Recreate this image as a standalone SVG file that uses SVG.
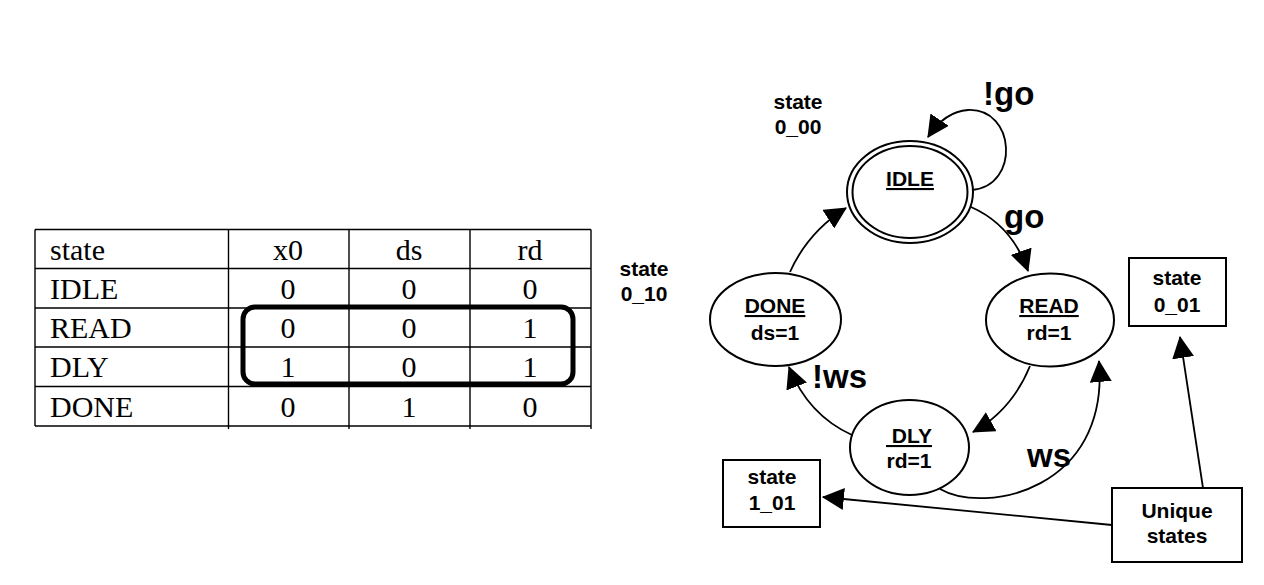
<svg xmlns="http://www.w3.org/2000/svg" width="1264" height="585" viewBox="0 0 1264 585">
<style>
.tbl{stroke:#000;stroke-width:1.4;fill:none}
.tt{font-family:"Liberation Serif","Times New Roman",serif;font-size:30px;fill:#000}
.tc{text-anchor:middle}
.node{fill:#fff;stroke:#000;stroke-width:2}
.nt{font-family:"Liberation Sans",Arial,sans-serif;font-weight:bold;font-size:21px;text-anchor:middle;fill:#000}
.u{text-decoration:underline}
.lbl{font-family:"Liberation Sans",Arial,sans-serif;font-weight:bold;font-size:33px;fill:#000}
.st{font-family:"Liberation Sans",Arial,sans-serif;font-weight:bold;font-size:21px;text-anchor:middle;fill:#000}
.box{fill:#fff;stroke:#000;stroke-width:2}
.edge{fill:none;stroke:#000;stroke-width:1.8;marker-end:url(#ah)}
</style>
<defs>
<marker id="ah" markerUnits="userSpaceOnUse" markerWidth="22" markerHeight="22" viewBox="0 0 20 20" refX="19" refY="10" orient="auto">
<path d="M0,0 L20,10 L0,20 z" fill="#000"/>
</marker>
</defs>
<rect width="1264" height="585" fill="#fff"/>

<g id="table">
<line class="tbl" x1="35" y1="229.5" x2="591" y2="229.5"/>
<line class="tbl" x1="35" y1="268.5" x2="591" y2="268.5"/>
<line class="tbl" x1="35" y1="308" x2="591" y2="308"/>
<line class="tbl" x1="35" y1="347" x2="591" y2="347"/>
<line class="tbl" x1="35" y1="386.5" x2="591" y2="386.5"/>
<line class="tbl" x1="35" y1="426" x2="591" y2="426"/>
<line class="tbl" x1="35" y1="229.5" x2="35" y2="426"/>
<line class="tbl" x1="228.5" y1="229.5" x2="228.5" y2="429"/>
<line class="tbl" x1="349" y1="229.5" x2="349" y2="429"/>
<line class="tbl" x1="470" y1="229.5" x2="470" y2="429"/>
<line class="tbl" x1="591" y1="229.5" x2="591" y2="429"/>
<text class="tt" x="50" y="260">state</text>
<text class="tt tc" x="288" y="260">x0</text>
<text class="tt tc" x="409" y="260">ds</text>
<text class="tt tc" x="530" y="260">rd</text>
<text class="tt" x="50" y="299">IDLE</text>
<text class="tt tc" x="288" y="299">0</text>
<text class="tt tc" x="409" y="299">0</text>
<text class="tt tc" x="530" y="299">0</text>
<text class="tt" x="50" y="338">READ</text>
<text class="tt tc" x="288" y="338">0</text>
<text class="tt tc" x="409" y="338">0</text>
<text class="tt tc" x="530" y="338">1</text>
<text class="tt" x="50" y="377">DLY</text>
<text class="tt tc" x="288" y="377">1</text>
<text class="tt tc" x="409" y="377">0</text>
<text class="tt tc" x="530" y="377">1</text>
<text class="tt" x="50" y="417">DONE</text>
<text class="tt tc" x="288" y="417">0</text>
<text class="tt tc" x="409" y="417">1</text>
<text class="tt tc" x="530" y="417">0</text>
<rect x="243" y="307" width="330" height="77" rx="12" ry="12" fill="none" stroke="#000" stroke-width="5"/>
</g>

<g id="connectors">
<path class="edge" d="M972,190 C1020,186 1016,108 968,110 C951,111 938,122 928,137"/>
<path class="edge" d="M971,207 Q1012,225 1028,271"/>
<path class="edge" d="M1030,366 Q1012,410 973,432"/>
<path class="edge" d="M852,435 Q808,415 789,367"/>
<path class="edge" d="M790,272 Q808,232 846,208"/>
<path class="edge" d="M940,489 C985,515 1110,490 1099,361"/>
<path class="edge" d="M1203,488 L1180,337"/>
<path class="edge" d="M1112,525 L823,497"/>
</g>

<g id="IDLE">
<ellipse class="node" cx="910" cy="192" rx="63" ry="51"/>
<ellipse class="node" cx="910" cy="192" rx="57.5" ry="46"/>
<text class="nt u" x="910" y="186">IDLE</text>
</g>
<g id="READ">
<ellipse class="node" cx="1050" cy="320" rx="64" ry="46.5"/>
<text class="nt u" x="1049" y="313">READ</text>
<text class="nt" x="1049" y="340">rd=1</text>
</g>
<g id="DONE">
<ellipse class="node" cx="775.5" cy="319.5" rx="65.5" ry="46.5"/>
<text class="nt u" x="775" y="313">DONE</text>
<text class="nt" x="775" y="340">ds=1</text>
</g>
<g id="DLY">
<ellipse class="node" cx="909.5" cy="447.5" rx="59.5" ry="47.5"/>
<text class="nt u" x="909" y="443" xml:space="preserve"> DLY</text>
<text class="nt" x="909" y="468">rd=1</text>
</g>

<g id="labels">
<text class="lbl" x="983" y="105">!go</text>
<text class="lbl" x="1004" y="228">go</text>
<text class="lbl" x="812" y="388">!ws</text>
<text class="lbl" x="1027" y="467">ws</text>
</g>

<g id="state_0_00">
<text class="st" x="798" y="109">state</text>
<text class="st" x="798" y="134">0_00</text>
</g>
<g id="state_0_10">
<text class="st" x="644" y="276">state</text>
<text class="st" x="644" y="301">0_10</text>
</g>
<g id="state_0_01">
<rect class="box" x="1129" y="258" width="97" height="68"/>
<text class="st" x="1177" y="285">state</text>
<text class="st" x="1177" y="312">0_01</text>
</g>
<g id="state_1_01">
<rect class="box" x="723" y="460" width="97" height="67"/>
<text class="st" x="772" y="484">state</text>
<text class="st" x="772" y="510">1_01</text>
</g>
<g id="unique_states">
<rect class="box" x="1112" y="488" width="130" height="74"/>
<text class="st" x="1177" y="518">Unique</text>
<text class="st" x="1177" y="543">states</text>
</g>
</svg>
